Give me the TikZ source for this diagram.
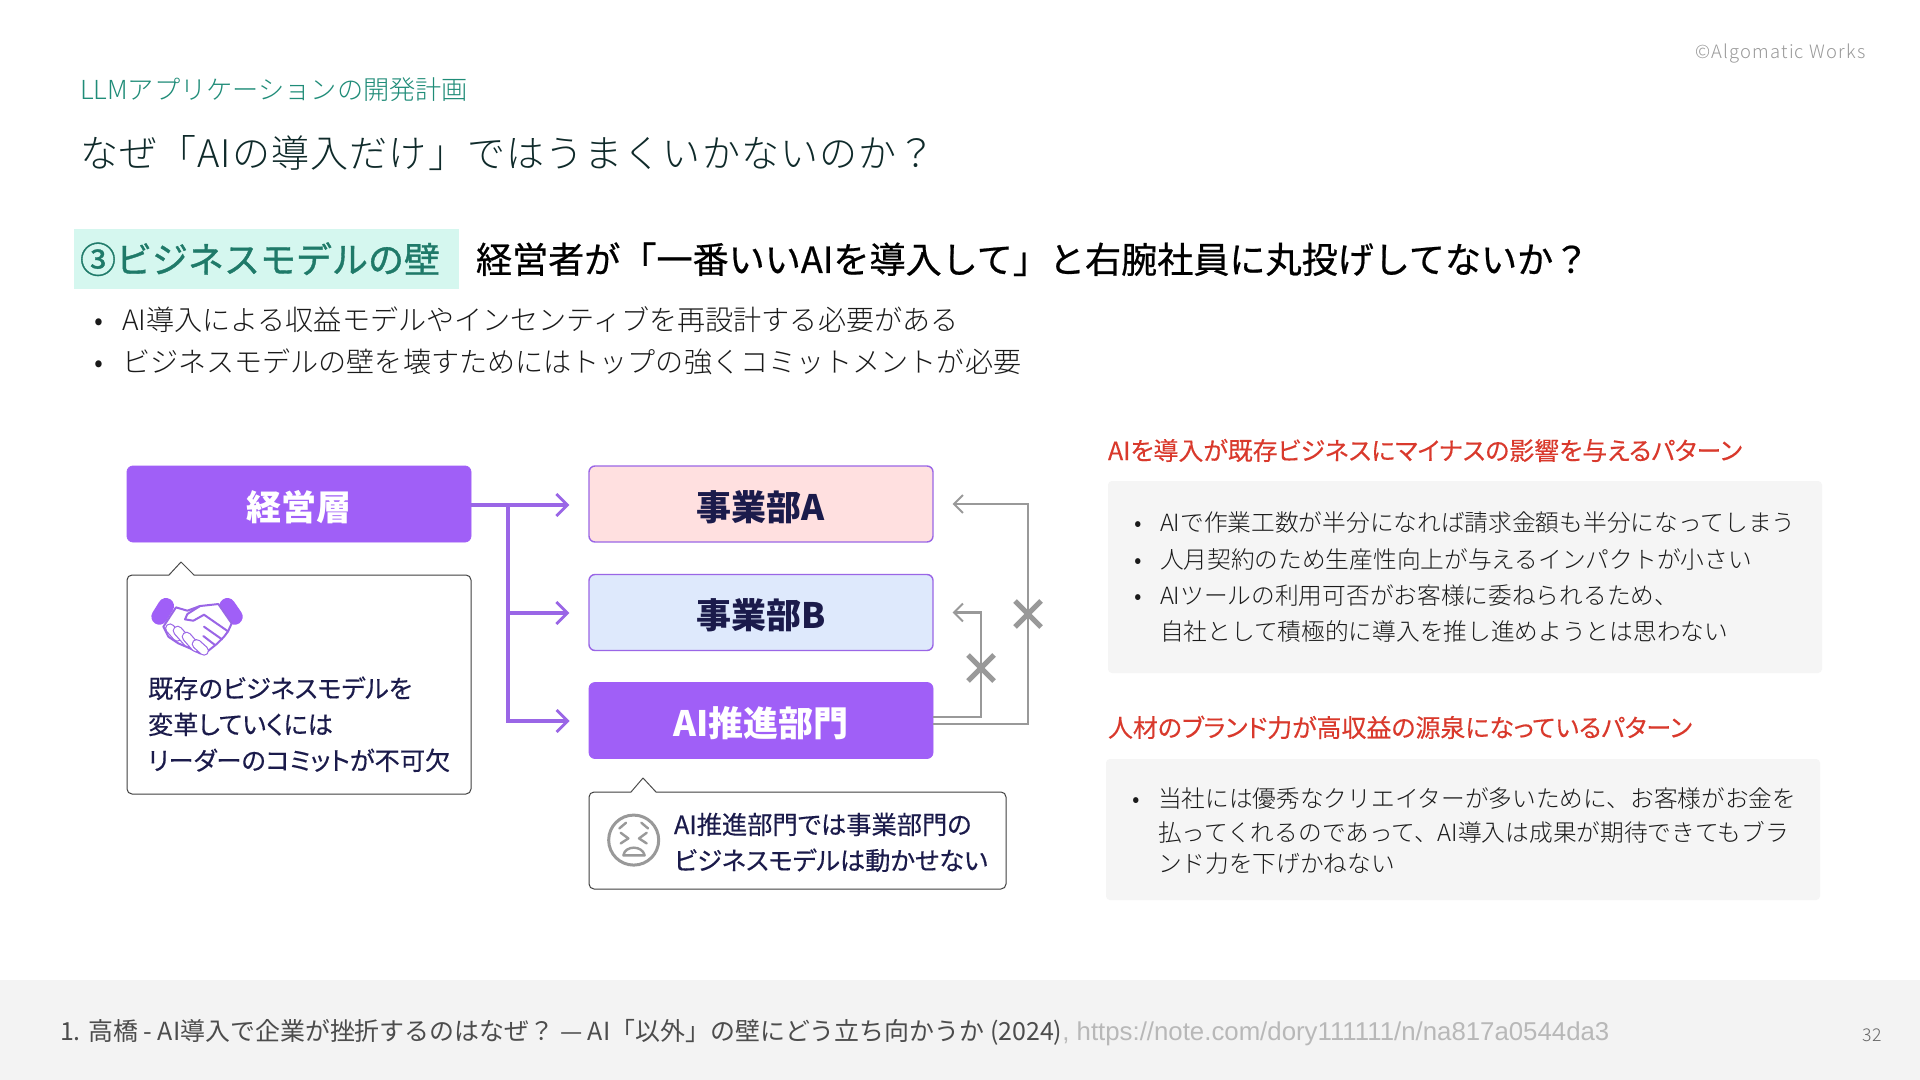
\documentclass[tikz,border=0pt]{standalone}
\usepackage{fontspec}
\setmainfont{Noto Sans CJK JP}
\newfontfamily\pf[RawFeature=+palt]{Noto Sans CJK JP}
\newfontfamily\urlf{Liberation Sans}
\newfontface\lt{Noto Sans CJK JP Light}
\usetikzlibrary{arrows.meta}
\definecolor{purp}{HTML}{A05FF7}
\definecolor{purpline}{HTML}{9A66E6}
\definecolor{navy}{HTML}{1B1B4B}
\definecolor{teal1}{HTML}{1F8C78}
\definecolor{teal2}{HTML}{1F7A69}
\definecolor{mint}{HTML}{D5F7EF}
\definecolor{dk}{HTML}{0F2A2A}
\definecolor{tx}{HTML}{1A1A1A}
\definecolor{redh}{HTML}{D9392C}
\definecolor{panel}{HTML}{F5F5F5}
\definecolor{foot}{HTML}{F3F3F3}
\definecolor{grayc}{HTML}{999999}
\definecolor{pinkb}{HTML}{FFE0E0}
\definecolor{blueb}{HTML}{DEE9FC}
\newcommand{\fsz}[1]{\fontsize{#1}{#1}\selectfont}
\newcommand{\lowered}[1]{\raisebox{-1.4pt}[\height][\depth]{#1}}
\tikzset{
  txt/.style={anchor=base west,inner sep=0pt,outer sep=0pt},
  solidbox/.style={draw=purp,fill=purp,rounded corners=3pt,minimum width=172pt,minimum height=38pt,inner sep=0pt,text=white,font=\fsz{17.5}\bfseries},
  lightbox/.style={draw=purpline,line width=0.7pt,rounded corners=3pt,minimum width=172pt,minimum height=38pt,inner sep=0pt,text=navy,font=\fsz{17.5}\bfseries},
  callout/.style={draw=black!75,line width=0.5pt,fill=white,rounded corners=2.5pt,inner sep=0pt},
  flow/.style={draw=purpline,line width=1.6pt,-{Straight Barb[length=5.5pt,width=11pt,line width=1.4pt]}},
  blocked/.style={draw=grayc,line width=1.2pt,-{Straight Barb[length=4.5pt,width=9pt,line width=0.9pt]}},
  xmark/.style={draw=grayc,line width=2.6pt},
  body/.style={txt,text=tx,font=\lt\fsz{14.05}},
  ptext/.style={txt,text=tx,font=\lt\fsz{11.85}},
  bluetext/.style={txt,text=navy,font=\pf\fsz{12.62}\addfontfeature{FakeBold=0.35}},
  redtext/.style={txt,text=redh,font=\pf\fsz{12.47}\addfontfeature{FakeBold=0.2}},
}
\begin{document}
\begin{tikzpicture}[x=0.5pt,y=-0.5pt]
\useasboundingbox (0,0) rectangle (1920,1080);
\fill[white] (0,0) rectangle (1920,1080);
% header
\node[txt,text=grayc,font=\lt\fsz{9.2}] (copy) at (1695,59) {\addfontfeature{LetterSpace=6.5}©Algomatic Works};
\node[txt,text=teal1,font=\lt\fsz{13.1}] (sub) at (80,100) {LLMアプリケーションの開発計画};
\node[txt,text=dk,font=\lt\fsz{19}] (title) at (80,168) {\addfontfeature{LetterSpace=3}なぜ「AIの導入だけ」ではうまくいかないのか？};
\fill[mint] (74,229) rectangle (459,289);
\node[txt,text=teal2,font=\fsz{18}\addfontfeature{FakeBold=1}] (wall) at (80,273) {③ビジネスモデルの壁};
\node[txt,text=black,font=\fsz{18.05}\addfontfeature{FakeBold=0.6}] (head) at (476,273) {経営者が「一番いいAIを導入して」と右腕社員に丸投げしてないか？};
\node[body] (b1d) at (94,331) {•};
\node[body] (b1) at (122,331) {AI導入による収益モデルやインセンティブを再設計する必要がある};
\node[body] (b2d) at (94,372) {•};
\node[body] (b2) at (122,372) {ビジネスモデルの壁を壊すためにはトップの強くコミットメントが必要};
% left diagram
\node[solidbox] (mgmt) at (299,504) {\lowered{経営層}};
\node[lightbox,fill=pinkb] (depta) at (761,504) {\lowered{事業部A}};
\node[lightbox,fill=blueb] (deptb) at (761,612.5) {\lowered{事業部B}};
\node[solidbox] (aidept) at (761,720.5) {\lowered{AI推進部門}};
\coordinate (branch) at (508,505);
\draw[flow,shorten >=9.5pt] ([yshift=-0.5pt]mgmt.east) -- ([yshift=-0.5pt]depta.west);
\draw[flow,shorten >=9.5pt] (branch) |- ([yshift=-0.25pt]deptb.west);
\draw[flow,shorten >=9.5pt] (branch) |- ([yshift=-0.25pt]aidept.west);
% callouts
\node[callout,minimum width=172pt,minimum height=109.5pt] (call1) at (299,684.5) {};
\path[fill=white] (169,576) -- (181,562) -- (194,576) -- cycle;
\draw[black!70,line width=0.5pt,line join=round] (169,575) -- (181,562) -- (194,575);
\node[callout,minimum width=208.5pt,minimum height=48.5pt] (call2) at (797.5,840.5) {};
\path[fill=white] (631,793) -- (643,778) -- (656,793) -- cycle;
\draw[black!70,line width=0.5pt,line join=round] (631,792) -- (643,778) -- (656,792);
\node[bluetext] (c1l1) at (148,698) {既存のビジネスモデルを};
\node[bluetext] (c1l2) at (148,734) {変革していくには};
\node[bluetext] (c1l3) at (148,770) {リーダーのコミットが不可欠};
\node[bluetext] (c2l1) at (674,834) {AI推進部門では事業部門の};
\node[bluetext] (c2l2) at (674,870) {ビジネスモデルは動かせない};
% blocked connectors
\coordinate (bout) at (aidept.east |- 0,717);
\coordinate (aout) at (aidept.east |- 0,724);
\coordinate (bbend) at (981,717);
\coordinate (abend) at (1028,724);
\coordinate (bin) at (deptb.east);
\coordinate (ain) at (depta.east);
\draw[blocked,shorten >=9.5pt] (bout) -- (bbend) |- (bin);
\draw[blocked,shorten >=9.5pt] (aout) -- (abend) |- (ain);
\draw[xmark] (968,655) -- (994,681) (968,681) -- (994,655);
\draw[xmark] (1015,601) -- (1041,627) (1015,627) -- (1041,601);
% handshake icon
\begin{scope}[shift={(100,440)},x=0.1667pt,y=-0.1667pt,line cap=round,line join=round]
\draw[purp,line width=8pt] (198,498) -- (178,530);
\draw[purp,line width=8pt] (382,498) -- (404,530);
\draw[purpline,line width=1pt,fill=white] (228,502) -- (262,512) -- (300,498) -- (355,492) -- (395,550) -- (384,574) -- (372,590) -- (350,612) -- (325,632) -- (300,640) -- (270,625) -- (235,610) -- (205,590) -- (190,560) -- cycle;
\draw[purpline,line width=1pt] (300,498) -- (262,522) -- (255,538) -- (280,542) -- (312,524) -- (384,574);
\draw[purpline,line width=1pt] (312,560) -- (366,598);
\draw[purpline,line width=1pt] (310,588) -- (345,615);
\foreach \a/\b/\c/\d in {210/565/232/590, 233/572/264/607, 260/590/288/622, 290/612/312/632}{
  \draw[purpline,line width=5pt] (\a,\b) -- (\c,\d);
  \draw[white,line width=3.8pt] (\a,\b) -- (\c,\d);
}
\end{scope}
% face icon
\begin{scope}[shift={(560,440)},x=0.1667pt,y=-0.1667pt,line cap=round,line join=round]
\draw[grayc,line width=1.5pt] (221,1200) circle (75);
\draw[grayc,line width=1.2pt] (182,1178) -- (205,1195) -- (182,1210);
\draw[grayc,line width=1.2pt] (260,1178) -- (237,1195) -- (260,1210);
\draw[grayc,line width=1.2pt] (178,1165) -- (198,1148);
\draw[grayc,line width=1.2pt] (264,1165) -- (244,1148);
\draw[grayc,line width=1.2pt] (190,1246) .. controls (195,1215) and (247,1215) .. (254,1246) -- cycle;
\end{scope}
% right panel
\node[redtext] (r1) at (1108,460) {AIを導入が既存ビジネスにマイナスの影響を与えるパターン};
\node[fill=panel,rounded corners=2pt,minimum width=357pt,minimum height=96pt,inner sep=0pt] (p1) at (1465,577) {};
\node[ptext] (p1d1) at (1134,531) {•};
\node[ptext] (p1l1) at (1160,531) {AIで作業工数が半分になれば請求金額も半分になってしまう};
\node[ptext] (p1d2) at (1134,568) {•};
\node[ptext] (p1l2) at (1160,568) {人月契約のため生産性向上が与えるインパクトが小さい};
\node[ptext] (p1d3) at (1134,604) {•};
\node[ptext] (p1l3) at (1160,604) {AIツールの利用可否がお客様に委ねられるため、};
\node[ptext] (p1l4) at (1160,640) {自社として積極的に導入を推し進めようとは思わない};
\node[redtext] (r2) at (1108,737) {人材のブランド力が高収益の源泉になっているパターン};
\node[fill=panel,rounded corners=2pt,minimum width=357pt,minimum height=70.5pt,inner sep=0pt] (p2) at (1463,829.5) {};
\node[ptext] (p2d1) at (1132,807) {•};
\node[ptext] (p2l1) at (1158,807) {当社には優秀なクリエイターが多いために、お客様がお金を};
\node[ptext] (p2l2) at (1158,841) {払ってくれるのであって、AI導入は成果が期待できてもブラ};
\node[ptext] (p2l3) at (1158,872) {ンド力を下げかねない};
% footer
\fill[foot] (0,980) rectangle (1920,1080);
\node[txt,text=black!70,font=\fsz{12.47}] (fn) at (60,1040) {1. 高橋 - AI導入で企業が挫折するのはなぜ？ — AI「以外」の壁にどう立ち向かうか (2024)\textcolor{black!28}{\urlf\fsz{12.9}, https://note.com/dory111111/n/na817a0544da3}};
\node[txt,text=black!60,font=\lt\fsz{8.8}] (page) at (1862,1041) {\addfontfeature{LetterSpace=5}32};
\end{tikzpicture}
\end{document}
